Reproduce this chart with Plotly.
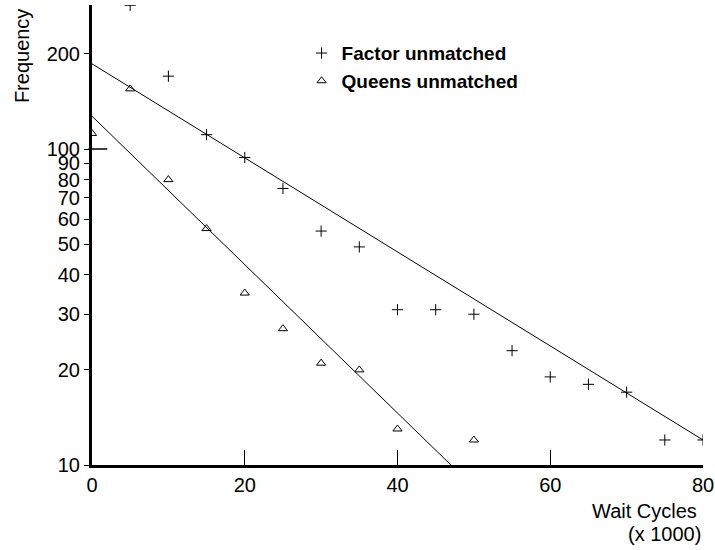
import plotly.graph_objects as go

# Data
factor_x = [5, 10, 15, 20, 25, 30, 35, 40, 45, 50, 55, 60, 65, 70, 75, 80]
factor_y = [285, 170, 111, 94, 75, 55, 49, 31, 31, 30, 23, 19, 18, 17, 12, 12]

queens_x = [0, 5, 10, 15, 20, 25, 30, 35, 40, 50]
queens_y = [112, 155, 80, 56, 35, 27, 21, 20, 13, 12]

# fitted lines (end points)
factor_fit_x = [0, 80]
factor_fit_y = [186, 12]
queens_fit_x = [0, 47]
queens_fit_y = [127, 10]

y_ticks = [10, 20, 30, 40, 50, 60, 70, 80, 90, 100, 200]
x_ticks = [0, 20, 40, 60, 80]

FONT = "Liberation Sans, Arial, sans-serif"

fig = go.Figure()

fig.add_trace(go.Scatter(
    x=factor_fit_x, y=factor_fit_y, mode="lines",
    line=dict(color="black", width=1), showlegend=False, hoverinfo="skip"))
fig.add_trace(go.Scatter(
    x=queens_fit_x, y=queens_fit_y, mode="lines",
    line=dict(color="black", width=1), showlegend=False, hoverinfo="skip"))

fig.add_trace(go.Scatter(
    x=factor_x, y=factor_y, mode="markers", name="Factor unmatched",
    marker=dict(symbol="cross-thin-open", size=8, color="black",
                line=dict(color="black", width=1))))
fig.add_trace(go.Scatter(
    x=queens_x, y=queens_y, mode="markers", name="Queens unmatched",
    marker=dict(symbol="triangle-up-open", size=8, color="black",
                line=dict(color="black", width=1))))

fig.update_layout(
    width=715, height=550, autosize=False,
    margin=dict(l=92, r=12, t=5, b=85, autoexpand=False),
    paper_bgcolor="white", plot_bgcolor="white",
    font=dict(family=FONT, size=20, color="black"),
    showlegend=True,
    legend=dict(x=0.343, y=0.9365, xanchor="left", yanchor="top",
                bgcolor="rgba(0,0,0,0)", borderwidth=0,
                font=dict(family=FONT, size=19, color="black", weight="bold"),
                tracegroupgap=0, itemsizing="trace"),
    xaxis=dict(range=[0, 80], tickvals=x_ticks, ticktext=[str(v) for v in x_ticks],
               showline=True, linewidth=3, linecolor="black",
               ticks="inside", ticklen=15, tickwidth=1, tickcolor="black",
               showgrid=False, zeroline=False, automargin=False,
               tickfont=dict(family=FONT, size=20, color="black")),
    yaxis=dict(type="log", range=[1, 2.4557], tickvals=y_ticks,
               ticktext=[str(v) for v in y_ticks],
               showline=True, linewidth=3, linecolor="black",
               ticks="outside", ticklen=5, tickwidth=1, tickcolor="black",
               showgrid=False, zeroline=False, automargin=False,
               tickfont=dict(family=FONT, size=20, color="black")),
)

# long tick at 100 on y-axis
fig.add_shape(type="line", xref="paper", yref="y", x0=-0.006, x1=0.025,
              y0=100, y1=100, line=dict(color="black", width=1.5))

fig.add_annotation(text="Frequency", xref="paper", yref="paper",
                   x=-0.1146, y=0.891, textangle=-90, showarrow=False,
                   xanchor="center", yanchor="middle",
                   font=dict(family=FONT, size=20, color="black"))
fig.add_annotation(text="Wait Cycles", xref="paper", yref="paper",
                   x=(699 - 92) / 611, y=1 - (511 - 5) / 460, showarrow=False,
                   xanchor="right", yanchor="middle",
                   font=dict(family=FONT, size=20, color="black"))
fig.add_annotation(text="(x 1000)", xref="paper", yref="paper",
                   x=(703 - 92) / 611, y=1 - (534 - 5) / 460, showarrow=False,
                   xanchor="right", yanchor="middle",
                   font=dict(family=FONT, size=20, color="black"))

fig.write_html("out.html",
               config=dict(displayModeBar=False, responsive=False),
               post_script="document.body.style.margin='0px';document.body.style.overflow='hidden';")
